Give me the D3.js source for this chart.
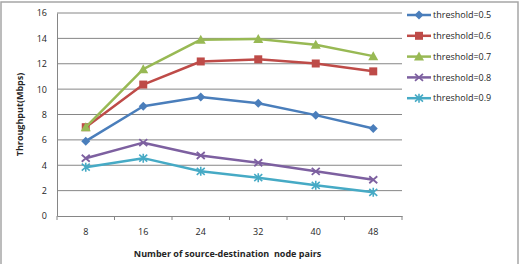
<!DOCTYPE html>
<html>
<head>
<meta charset="utf-8">
<script src="https://cdn.jsdelivr.net/npm/d3@7"></script>
<style>
  body { margin: 0; background: #fff; }
  svg text { font-family: "Open Sans", "Noto Sans", sans-serif; fill: #262626; }
</style>
</head>
<body>
<div id="chart"></div>
<script>
// node pairs on x axis
const pairs = [8, 16, 24, 32, 40, 48];
const yTicks = [0, 2, 4, 6, 8, 10, 12, 14, 16];

const thr05 = [5.9, 8.65, 9.38, 8.88, 7.95, 6.9];
const thr06 = [7.0, 10.36, 12.18, 12.35, 12.02, 11.4];
const thr07 = [7.0, 11.57, 13.9, 13.95, 13.5, 12.6];
const thr08 = [4.55, 5.78, 4.77, 4.2, 3.52, 2.86];
const thr09 = [3.85, 4.56, 3.52, 3.02, 2.42, 1.87];

const seriesNames = ["threshold=0.5", "threshold=0.6", "threshold=0.7", "threshold=0.8", "threshold=0.9"];

const W = 522, H = 264;
const margin = {top: 13, right: 120, bottom: 48, left: 57};
const width = 402 - margin.left;
const height = 216 - margin.top;

const series = [
  {name: seriesNames[0], values: thr05, color: "#4a7ebb", marker: "diamond"},
  {name: seriesNames[1], values: thr06, color: "#be4b48", marker: "square"},
  {name: seriesNames[2], values: thr07, color: "#98b954", marker: "triangle"},
  {name: seriesNames[3], values: thr08, color: "#7d60a0", marker: "x"},
  {name: seriesNames[4], values: thr09, color: "#46aac5", marker: "star"}
];

const svg = d3.select("#chart").append("svg")
  .attr("width", W)
  .attr("height", H);

// chart frame
svg.append("rect")
  .attr("x", 1).attr("y", 2)
  .attr("width", 517).attr("height", 270)
  .attr("fill", "none")
  .attr("stroke", "#a6a6a6")
  .attr("stroke-width", 1.5);

const g = svg.append("g")
  .attr("transform", `translate(${margin.left},${margin.top})`);

const x = d3.scaleBand().domain(pairs).range([0, width]);
const y = d3.scaleLinear().domain([0, 16]).range([height, 0]);
const cx = d => x(d) + x.bandwidth() / 2;

// grid
g.append("g")
  .selectAll("line")
  .data(yTicks.filter(t => t > 0))
  .join("line")
  .attr("x1", 0).attr("x2", width)
  .attr("y1", d => y(d)).attr("y2", d => y(d))
  .attr("stroke", "#868686")
  .attr("stroke-width", 1);

// axes
const yAxis = g.append("g")
  .call(d3.axisLeft(y).tickValues(yTicks).tickSize(0).tickPadding(10));
yAxis.select(".domain").attr("stroke", "#868686");
yAxis.selectAll("text").attr("font-size", 9).style("fill", "#262626");

const xAxis = g.append("g")
  .attr("transform", `translate(0,${height})`)
  .call(d3.axisBottom(x).tickSize(0).tickPadding(13));
xAxis.select(".domain").attr("stroke", "#868686");
xAxis.selectAll("text").attr("font-size", 9).style("fill", "#262626");

// tick marks between categories
g.append("g")
  .selectAll("line")
  .data(d3.range(pairs.length + 1))
  .join("line")
  .attr("x1", i => i * x.step()).attr("x2", i => i * x.step())
  .attr("y1", height).attr("y2", height + 4)
  .attr("stroke", "#868686");

function drawMarker(sel, type, color) {
  if (type === "diamond") {
    sel.append("path").attr("d", "M0,-4.5L4.5,0L0,4.5L-4.5,0Z").attr("fill", color);
  } else if (type === "square") {
    sel.append("rect").attr("x", -4).attr("y", -4).attr("width", 8).attr("height", 8).attr("fill", color);
  } else if (type === "triangle") {
    sel.append("path").attr("d", "M0,-5L5,4L-5,4Z").attr("fill", color);
  } else if (type === "x") {
    sel.append("path").attr("d", "M-4,-3.5L4,3.5M-4,3.5L4,-3.5")
      .attr("stroke", color).attr("stroke-width", 1.8).attr("fill", "none");
  } else {
    sel.append("path").attr("d", "M-4,-3.5L4,3.5M-4,3.5L4,-3.5M0,-4.5L0,4.5")
      .attr("stroke", color).attr("stroke-width", 1.6).attr("fill", "none");
  }
}

const line = d3.line()
  .x((d, i) => cx(pairs[i]))
  .y(d => y(d));

series.forEach(s => {
  g.append("path")
    .datum(s.values)
    .attr("fill", "none")
    .attr("stroke", s.color)
    .attr("stroke-width", 2.5)
    .attr("stroke-linejoin", "round")
    .attr("d", line);

  g.append("g")
    .selectAll("g")
    .data(s.values)
    .join("g")
    .attr("transform", (d, i) => `translate(${cx(pairs[i])},${y(d)})`)
    .each(function () { drawMarker(d3.select(this), s.marker, s.color); });
});

// axis titles
svg.append("text")
  .attr("transform", `translate(23,${margin.top + height / 2}) rotate(-90)`)
  .attr("text-anchor", "middle")
  .attr("font-size", 9)
  .attr("font-weight", "bold")
  .text("Throughput(Mbps)");

svg.append("text")
  .attr("x", margin.left + width / 2 - 2)
  .attr("y", 257)
  .attr("text-anchor", "middle")
  .attr("font-size", 9)
  .attr("font-weight", "bold")
  .attr("xml:space", "preserve")
  .text("Number of source-destination  node pairs");

// legend
const legend = svg.append("g")
  .selectAll("g")
  .data(series)
  .join("g")
  .attr("transform", (d, i) => `translate(407,${15 + i * 20.8})`);

legend.append("line")
  .attr("x1", 0).attr("x2", 24)
  .attr("stroke", d => d.color)
  .attr("stroke-width", 2.5);

legend.append("g")
  .attr("transform", "translate(12,0)")
  .each(function (d) { drawMarker(d3.select(this), d.marker, d.color); });

legend.append("text")
  .attr("x", 26)
  .attr("dy", "0.35em")
  .attr("font-size", 9)
  .text(d => d.name);
</script>
</body>
</html>
